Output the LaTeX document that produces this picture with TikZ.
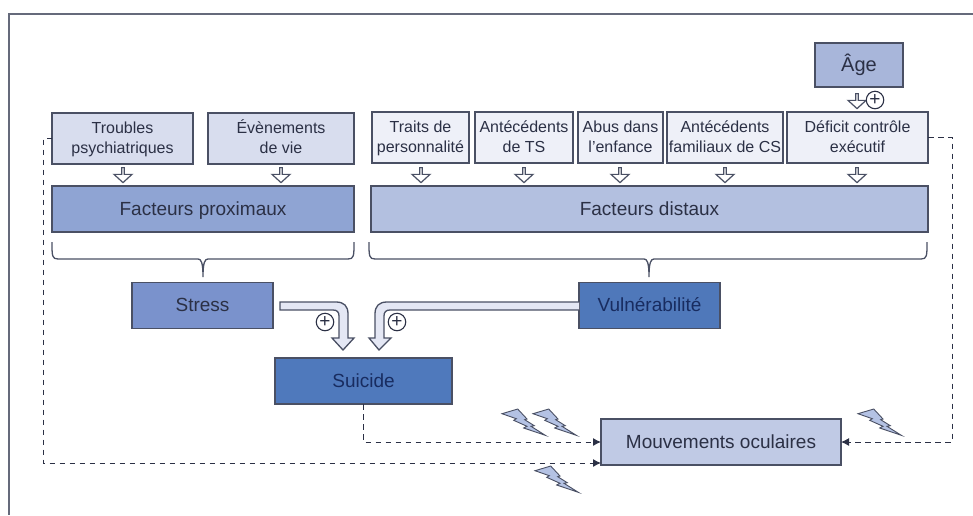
\documentclass[tikz,border=0pt]{standalone}
\usepackage{fontspec}
\setmainfont{Liberation Sans}
\usetikzlibrary{arrows.meta}
\usetikzlibrary{shapes.arrows}
\definecolor{ink}{HTML}{2B3045}
\definecolor{edge}{HTML}{4A5064}
\definecolor{pale}{HTML}{E4E7F4}
\definecolor{bolt}{HTML}{B4C2E4}
\tikzset{box/.style = {draw = edge, line width = 1.4, inner sep = 0, outer sep = 0, align = center, text = ink,
                       text height = 32.5, text depth = 3.5, font = \fontsize{16}{20}\selectfont}}
\tikzset{bigbox/.style = {box, text height = 15, text depth = 3, font = \fontsize{19}{23}\selectfont}}
\tikzset{openarrow/.style = {draw = edge, fill = white, line width = 1.2, single arrow, shape border rotate = 270,
                             minimum width = 18, minimum height = 15, single arrow head extend = 3.5,
                             single arrow tip angle = 95, inner sep = 0, outer sep = 0}}
\tikzset{plusmark/.style = {draw = ink, fill = white, circle, line width = 1.1, inner sep = 0, minimum size = 17.5,
                            text = ink, font = \fontsize{19}{19}\selectfont}}
\tikzset{dashline/.style = {draw = ink, line width = 1, dash pattern = on 5.5 off 4.5, -{Latex[length = 8, width = 8]}}}
\tikzset{plainline/.style = {draw = edge, line width = 1.3}}
\tikzset{blockarrow/.style = {draw = edge, fill = pale, line width = 1.3, line join = miter}}
\tikzset{flash/.pic = {\draw [draw = edge, fill = bolt, line width = 0.9]
  (0, 4.7) -- (15.7, 0) -- (25, 10) -- (22.7, 10.7) -- (32.3, 16.7) -- (29, 17.3) -- (43.3, 26.3)
  -- (21.7, 19) -- (25, 17.3) -- (11.7, 11.3) -- (14.3, 9.7) -- cycle;}}

\begin{document}
\begin{tikzpicture}[x=1pt, y=-1pt]
      \useasboundingbox (0, 0) rectangle (973, 515);
      \draw [draw = edge!85, line width = 1.5] (973, 14) -- (9, 14) -- (9, 515);

      \node (age) at (859, 65) [bigbox, fill = {rgb,255:red,168;green,182;blue,218}, minimum width = 88, minimum height = 44, font = \fontsize{20}{24}\selectfont] {Âge};

      \node (troubles) at (122.5, 138.5) [box, fill = {rgb,255:red,216;green,221;blue,238}, minimum width = 141, minimum height = 51] {Troubles\\psychiatriques};
      \node (evenements) at (281, 138.5) [box, fill = {rgb,255:red,216;green,221;blue,238}, minimum width = 146, minimum height = 51] {Évènements\\de vie};
      \node (traits) at (420.5, 137.5) [box, fill = {rgb,255:red,238;green,240;blue,248}, minimum width = 97, minimum height = 51] {Traits de\\personnalité};
      \node (atcdts) at (524, 137.5) [box, fill = {rgb,255:red,238;green,240;blue,248}, minimum width = 98, minimum height = 51] {Antécédents\\de TS};
      \node (abus) at (620.5, 137.5) [box, fill = {rgb,255:red,238;green,240;blue,248}, minimum width = 85, minimum height = 51] {Abus dans\\l’enfance};
      \node (familiaux) at (725, 137.5) [box, fill = {rgb,255:red,238;green,240;blue,248}, minimum width = 116, minimum height = 51] {Antécédents\\familiaux de CS};
      \node (deficit) at (857.5, 137.5) [box, fill = {rgb,255:red,238;green,240;blue,248}, minimum width = 141, minimum height = 51] {Déficit contrôle\\exécutif};

      \node (proximaux) at (203, 209) [bigbox, fill = {rgb,255:red,143;green,164;blue,211}, minimum width = 302, minimum height = 46] {Facteurs proximaux};
      \node (distaux) at (649.5, 209) [bigbox, fill = {rgb,255:red,179;green,192;blue,224}, minimum width = 557, minimum height = 46] {Facteurs distaux};

      \node (stress) at (202.5, 305.5) [bigbox, fill = {rgb,255:red,122;green,146;blue,204}, minimum width = 141, minimum height = 46] {Stress};
      \node (vulnerabilite) at (649.5, 305.5) [bigbox, fill = {rgb,255:red,79;green,120;blue,186}, text = {rgb,255:red,24;green,44;blue,96}, minimum width = 141, minimum height = 46] {Vulnérabilité};
      \node (suicide) at (363.5, 381) [bigbox, fill = {rgb,255:red,79;green,121;blue,188}, text = {rgb,255:red,24;green,44;blue,96}, minimum width = 177, minimum height = 46] {Suicide};
      \node (mouvements) at (721, 442) [bigbox, fill = {rgb,255:red,192;green,202;blue,229}, minimum width = 240, minimum height = 46] {Mouvements oculaires};

      \node (agearrow) at (857, 100.5) [openarrow] {};
      \node (troublesarrow) at (123, 174.5) [openarrow] {};
      \node (evenementsarrow) at (281, 174.5) [openarrow] {};
      \node (traitsarrow) at (421, 174.5) [openarrow] {};
      \node (atcdtsarrow) at (524, 174.5) [openarrow] {};
      \node (abusarrow) at (620, 174.5) [openarrow] {};
      \node (familiauxarrow) at (725, 174.5) [openarrow] {};
      \node (deficitarrow) at (857, 174.5) [openarrow] {};

      % accolades
      \draw [plainline] (52, 242) .. controls (52, 256) and (52, 259) .. (58, 259) -- (198, 259)
        .. controls (201, 259) and (203, 262) .. (203, 277)
        .. controls (203, 262) and (205, 259) .. (208, 259) -- (348, 259)
        .. controls (354, 259) and (354, 256) .. (354, 242);
      \draw [plainline] (369, 242) .. controls (369, 256) and (369, 259) .. (375, 259) -- (644, 259)
        .. controls (647, 259) and (649, 262) .. (649, 277)
        .. controls (649, 262) and (651, 259) .. (654, 259) -- (921, 259)
        .. controls (927, 259) and (927, 256) .. (927, 242);

      \draw [blockarrow] (280, 302) -- (336, 302) .. controls (344, 302) and (348, 306) .. (348, 314)
        -- (348, 338) -- (354, 338) -- (343, 350) -- (332, 338) -- (339, 338) -- (339, 316)
        .. controls (339, 312) and (337, 310) .. (333, 310) -- (280, 310) -- cycle;
      \draw [blockarrow] (vulnerabilite.west |- 0, 302) -- (387, 302) .. controls (379, 302) and (375, 306) .. (375, 314)
        -- (375, 338) -- (369, 338) -- (379, 350) -- (391, 338) -- (384, 338) -- (384, 316)
        .. controls (384, 312) and (386, 310) .. (390, 310) -- (vulnerabilite.west |- 0, 310);

      \node (plusage) at (875, 100) [plusmark] {+};
      \node (plusstress) at (325, 322) [plusmark] {+};
      \node (plusvulnerabilite) at (397, 322) [plusmark] {+};

      \draw [dashline] (troubles.west) -- (43, 138.5) -- (43, 463) -- (601, 463);
      \draw [dashline] (suicide.south) |- (mouvements.west);
      \draw [dashline] (deficit.east) -| (952, 442) -- (mouvements.east);

      \pic at (502, 409) {flash};
      \pic at (533, 409) {flash};
      \pic at (858, 409) {flash};
      \pic at (535, 466) {flash};
    \end{tikzpicture}
\end{document}
